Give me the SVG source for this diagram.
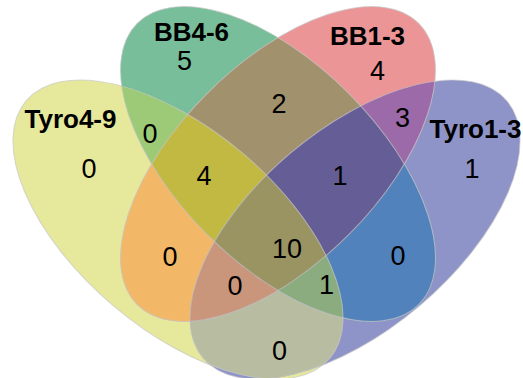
<svg xmlns="http://www.w3.org/2000/svg" xmlns:xlink="http://www.w3.org/1999/xlink" width="523" height="378" viewBox="0 0 523 378">
<style>
.lbl{font-family:"Liberation Sans",Arial,sans-serif;font-weight:bold;font-size:26px;fill:#000;text-anchor:middle}
.num{font-family:"Liberation Sans",Arial,sans-serif;font-size:27px;fill:#000;text-anchor:middle}
.edge{fill:none;stroke:#c8c8c8;stroke-opacity:0.7;stroke-width:1}
</style>
<defs>
<ellipse id="eY" cx="178" cy="229.5" rx="199" ry="100" transform="rotate(40.25 178 229.5)"/>
<ellipse id="eB" cx="355" cy="229.5" rx="199" ry="100" transform="rotate(-40.25 355 229.5)"/>
<ellipse id="eG" cx="278" cy="164" rx="199" ry="100" transform="rotate(45 278 164)"/>
<ellipse id="eR" cx="278" cy="164" rx="199" ry="100" transform="rotate(-45 278 164)"/>
<clipPath id="cY"><use xlink:href="#eY"/></clipPath>
<clipPath id="cB"><use xlink:href="#eB"/></clipPath>
<clipPath id="cG"><use xlink:href="#eG"/></clipPath>
<clipPath id="cR"><use xlink:href="#eR"/></clipPath>
</defs>
<rect width="523" height="378" fill="#fff"/>
<g id="regions">
<use xlink:href="#eY" fill="#E6E89B"/>
<use xlink:href="#eB" fill="#8E94C8"/>
<use xlink:href="#eG" fill="#78BE9A"/>
<use xlink:href="#eR" fill="#EB9597"/>
<use xlink:href="#eG" fill="#9DCA77" clip-path="url(#cY)"/>
<use xlink:href="#eR" fill="#F2B868" clip-path="url(#cY)"/>
<use xlink:href="#eB" fill="#B8BDA2" clip-path="url(#cY)"/>
<use xlink:href="#eR" fill="#A2916D" clip-path="url(#cG)"/>
<use xlink:href="#eB" fill="#5182BC" clip-path="url(#cG)"/>
<use xlink:href="#eB" fill="#9C6AA8" clip-path="url(#cR)"/>
<g clip-path="url(#cY)"><use xlink:href="#eR" fill="#C2B942" clip-path="url(#cG)"/></g>
<g clip-path="url(#cY)"><use xlink:href="#eB" fill="#C9967C" clip-path="url(#cR)"/></g>
<g clip-path="url(#cY)"><use xlink:href="#eB" fill="#8AAC7E" clip-path="url(#cG)"/></g>
<g clip-path="url(#cG)"><use xlink:href="#eB" fill="#655E96" clip-path="url(#cR)"/></g>
<g clip-path="url(#cY)"><g clip-path="url(#cG)"><use xlink:href="#eB" fill="#9A9462" clip-path="url(#cR)"/></g></g>
</g>
<g id="set-tyro4-9"><use xlink:href="#eY" class="edge"/><text class="lbl" x="70.5" y="128">Tyro4-9</text></g>
<g id="set-bb4-6"><use xlink:href="#eG" class="edge"/><text class="lbl" x="191.5" y="41">BB4-6</text></g>
<g id="set-bb1-3"><use xlink:href="#eR" class="edge"/><text class="lbl" x="367.5" y="45">BB1-3</text></g>
<g id="set-tyro1-3"><use xlink:href="#eB" class="edge"/><text class="lbl" x="475.5" y="138">Tyro1-3</text></g>
<g id="counts">
<text class="num" x="89" y="178">0</text>
<text class="num" x="184.5" y="70">5</text>
<text class="num" x="377.5" y="80">4</text>
<text class="num" x="472" y="178">1</text>
<text class="num" x="150" y="143">0</text>
<text class="num" x="279" y="113">2</text>
<text class="num" x="402.5" y="127">3</text>
<text class="num" x="170" y="266">0</text>
<text class="num" x="398" y="265">0</text>
<text class="num" x="279.5" y="360">0</text>
<text class="num" x="204" y="185">4</text>
<text class="num" x="340" y="185">1</text>
<text class="num" x="235" y="295">0</text>
<text class="num" x="326.5" y="294">1</text>
<text class="num" x="287" y="258">10</text>
</g>
</svg>
